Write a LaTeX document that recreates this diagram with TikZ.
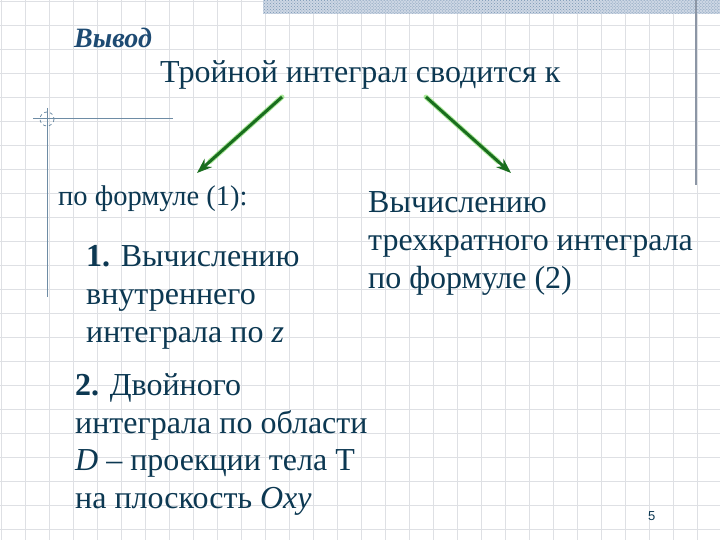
\documentclass[tikz,border=0pt]{standalone}
\usepackage{fontspec}
\setmainfont{Liberation Serif}
\setsansfont{Liberation Sans}
\usetikzlibrary{arrows.meta,patterns,calc}
\definecolor{txt}{RGB}{12,56,82}
\definecolor{ttl}{RGB}{30,75,115}
\definecolor{gridc}{RGB}{222,224,228}
\definecolor{deco}{RGB}{110,140,165}
\definecolor{vline}{RGB}{140,150,165}
\definecolor{band}{RGB}{205,215,228}
\definecolor{bandp}{RGB}{120,150,180}
\definecolor{arrdark}{RGB}{25,110,30}
\definecolor{arrglow}{RGB}{120,220,90}
\tikzset{
  gridline/.style={draw=gridc,line width=0.8bp},
  body/.style={text=txt,inner sep=0pt,anchor=base west,align=left,
    font=\fontsize{32bp}{37.5bp}\selectfont},
  glow/.style={draw=arrglow,line width=5bp,line cap=round,opacity=0.6},
  greenarrow/.style={draw=arrdark,line width=3bp,
    -{Stealth[length=15bp,width=11bp]}},
}
\begin{document}
\begin{tikzpicture}[x=1bp,y=-1bp]
\useasboundingbox (0,0) rectangle (720,540);
\fill[white] (0,0) rectangle (720,540);
% grid
\foreach \i in {0,...,29} \draw[gridline] ({1+24*\i},0) -- ({1+24*\i},540);
\foreach \j in {0,...,22} \draw[gridline] (0,{1+24*\j}) -- (720,{1+24*\j});
% top band
\fill[band] (263,0) rectangle (720,14);
\fill[pattern=crosshatch dots,pattern color=bandp] (263,0) rectangle (720,14);
% right vertical line
\draw[vline,line width=1.2bp] (696,0) -- (696,185);
% left decoration
\draw[deco,line width=1bp] (33,119) -- (173,119);
\draw[deco,line width=1bp] (47,108) -- (47,297);
\draw[deco,line width=0.8bp,dashed] (47,119) circle (7);
% texts (base anchor of a multi-line node = baseline of its last line)
\node[text=ttl,inner sep=0pt,anchor=base west,
  font=\fontsize{28bp}{32bp}\selectfont\bfseries\itshape] (vyvod) at (74,48) {Вывод};
\node[body] (title) at (160,83) {Тройной интеграл сводится к};
\node[body,font=\fontsize{28.5bp}{34bp}\selectfont] (f1) at (58,206) {по формуле (1):};
\node[body] (s1) at (86,342) {\textbf{1.} Вычислению\\внутреннего\\интеграла по \textit{z}};
\node[body] (r) at (368,288) {Вычислению\\трехкратного интеграла\\по формуле (2)};
\node[body] (s2) at (75,508) {\textbf{2.} Двойного\\интеграла по области\\\textit{D} – проекции тела Т\\на плоскость \textit{Oxy}};
\node[text=txt,inner sep=0pt,anchor=base west,font=\sffamily\fontsize{13bp}{15bp}\selectfont] (pg) at (648,520) {5};
% arrows
\coordinate (a1s) at (282,97);
\coordinate (a1e) at (197,173);
\coordinate (a2s) at (426,97);
\coordinate (a2e) at (511,173);
\draw[glow] (a1s) -- ($(a1s)!0.85!(a1e)$);
\draw[glow] (a2s) -- ($(a2s)!0.85!(a2e)$);
\draw[greenarrow] (a1s) -- (a1e);
\draw[greenarrow] (a2s) -- (a2e);
\end{tikzpicture}
\end{document}
